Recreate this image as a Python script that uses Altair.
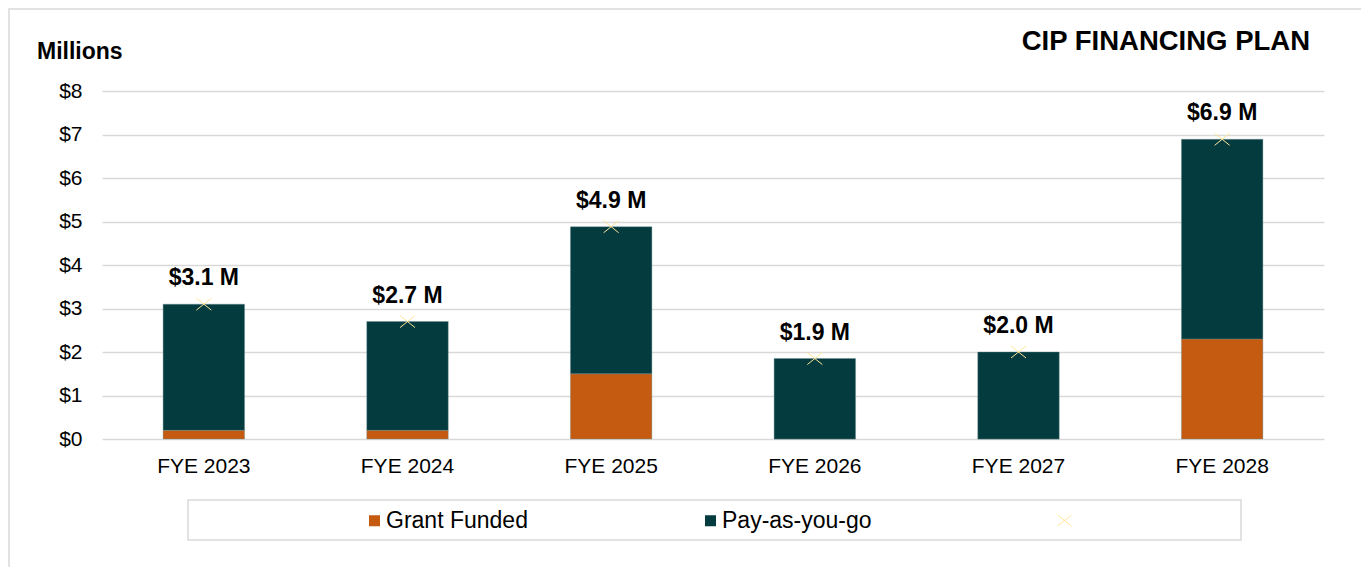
import altair as alt
import pandas as pd

years = ["FYE 2023", "FYE 2024", "FYE 2025", "FYE 2026", "FYE 2027", "FYE 2028"]
grant_funded = [0.2, 0.2, 1.5, 0.0, 0.0, 2.3]
pay_as_you_go = [2.9, 2.5, 3.38, 1.85, 2.0, 4.59]
totals = [3.1, 2.7, 4.88, 1.85, 2.0, 6.89]
total_labels = ["$3.1 M", "$2.7 M", "$4.9 M", "$1.9 M", "$2.0 M", "$6.9 M"]
series_names = ["Grant Funded", "Pay-as-you-go"]
series_colors = ["#C55A11", "#033B3F"]
y_ticks = [0, 1, 2, 3, 4, 5, 6, 7, 8]

FONT = "Liberation Sans"
GRID = "#D9D9D9"
MARK_COLOR = "#FFE699"
X_PATH = "M-1,-0.8L1,0.8M-1,0.8L1,-0.8"

rows = []
for i, yr in enumerate(years):
    rows.append({"year": yr, "series": series_names[0], "value": grant_funded[i], "ord": 0})
    rows.append({"year": yr, "series": series_names[1], "value": pay_as_you_go[i], "ord": 1})
bars_df = pd.DataFrame(rows)
tot_df = pd.DataFrame({"year": years, "total": totals, "label": total_labels, "mk": ["total"] * len(years)})

W, H = 1222, 348
PL, PT = 94, 83

x_enc = alt.X("year:N", sort=years,
              scale=alt.Scale(paddingInner=0.6, paddingOuter=0.3),
              axis=alt.Axis(title=None, labelAngle=0, labelFont=FONT, labelFontSize=21,
                            labelColor="#000000", ticks=False, domain=False,
                            labelPadding=16, grid=False))
y_scale = alt.Scale(domain=[0, 8], nice=False)

bars = alt.Chart(bars_df).mark_bar(stroke="#6f8f91", strokeWidth=0.4).encode(
    x=x_enc,
    y=alt.Y("value:Q", stack="zero", scale=y_scale,
            axis=alt.Axis(title=None, values=y_ticks, labelExpr="'$' + datum.value",
                          labelFont=FONT, labelFontSize=21, labelColor="#000000",
                          ticks=False, domain=False, labelPadding=20,
                          grid=True, gridColor=GRID, gridWidth=1.5)),
    color=alt.Color("series:N",
                    scale=alt.Scale(domain=series_names, range=series_colors),
                    legend=alt.Legend(orient="none", legendX=261, legendY=418,
                                      direction="horizontal", title=None,
                                      symbolType="square", symbolSize=121,
                                      symbolStrokeWidth=0, labelFont=FONT,
                                      labelFontSize=23, labelColor="#000000",
                                      labelOffset=0, columnPadding=171, padding=0)),
    order=alt.Order("ord:Q"),
)

points = alt.Chart(tot_df).mark_point(filled=False, strokeWidth=1, size=225, opacity=1,
                                      stroke=MARK_COLOR).encode(
    x=alt.X("year:N", sort=years),
    y=alt.Y("total:Q", scale=y_scale),
    shape=alt.Shape("mk:N", scale=alt.Scale(domain=["total"], range=[X_PATH]),
                    legend=alt.Legend(orient="none", legendX=955, legendY=422,
                                      title=None, labelExpr="''",
                                      symbolStrokeColor=MARK_COLOR,
                                      symbolFillColor="transparent",
                                      symbolStrokeWidth=1, symbolSize=180,
                                      padding=0)),
)

labels = alt.Chart(tot_df).mark_text(font=FONT, fontSize=23, fontWeight="bold",
                                     color="#000000", baseline="alphabetic", dy=-19).encode(
    x=alt.X("year:N", sort=years),
    y=alt.Y("total:Q", scale=y_scale),
    text="label:N",
)

one = alt.Data(values=[{"a": 1}])

frame = alt.Chart(one).mark_rect(fill=None, stroke=GRID, strokeWidth=1.5).encode(
    x=alt.value(-93), x2=alt.value(1266), y=alt.value(-82), y2=alt.value(490))

legend_box = alt.Chart(one).mark_rect(fill=None, stroke=GRID, strokeWidth=1.5).encode(
    x=alt.value(86), x2=alt.value(1139), y=alt.value(409), y2=alt.value(449))

millions = alt.Chart(one).mark_text(text="Millions", font=FONT, fontSize=23, fontWeight="bold",
                                    align="left", baseline="alphabetic", color="#000000").encode(
    x=alt.value(-65), y=alt.value(-32))

title = alt.Chart(one).mark_text(text="CIP FINANCING PLAN", font=FONT, fontSize=27.5,
                                 fontWeight="bold", align="right", baseline="alphabetic",
                                 color="#000000").encode(
    x=alt.value(1208), y=alt.value(-41))

chart = alt.layer(frame, legend_box, bars, points, labels, millions, title).resolve_scale(
    color="independent", shape="independent"
).properties(
    width=W, height=H,
    background="#FFFFFF",
    autosize=alt.AutoSizeParams(type="none"),
    padding={"left": PL, "top": PT, "right": 1353 - PL - W, "bottom": 559 - PT - H},
).configure_view(stroke=None, strokeWidth=0)

chart.save("out.html", embed_options={"renderer": "svg", "actions": False})
